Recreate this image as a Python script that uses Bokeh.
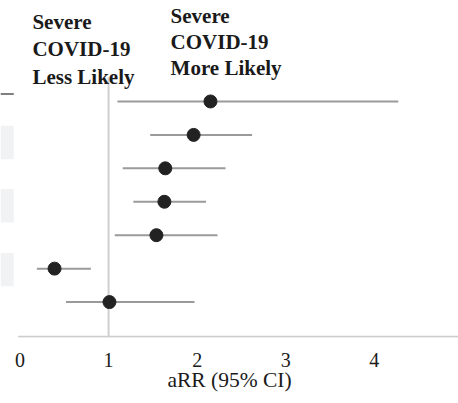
from bokeh.plotting import figure
from bokeh.models import Range1d, Label, FixedTicker
from bokeh.embed import file_html
from bokeh.resources import INLINE

# ---- data ----
rows = [0, 1, 2, 3, 4, 5, 6]                      # top to bottom
arr = [2.15, 1.96, 1.64, 1.63, 1.54, 0.39, 1.01]  # adjusted risk ratio
lower = [1.10, 1.47, 1.16, 1.28, 1.07, 0.19, 0.52]
upper = [4.27, 2.62, 2.32, 2.10, 2.23, 0.80, 1.97]
x_ticks = [0, 1, 2, 3, 4]
ref_value = 1.0
shade_rows = [1.23, 3.12, 5.03]   # shaded rows of the (cropped) table on the left
header_rule_row = -0.22

SERIF = "Liberation Serif"

p = figure(width=458, height=403, output_backend="svg", toolbar_location=None,
           x_range=Range1d(-0.22, 4.95), y_range=Range1d(7.06, -3.02),
           y_axis_location=None, min_border=0, min_border_bottom=66,
           outline_line_color=None, background_fill_color="white",
           border_fill_color="white")
p.xgrid.visible = False
p.ygrid.visible = False

# cropped table shading + header rule at far left
p.quad(left=-0.22, right=-0.07, top=[r - 0.5 for r in shade_rows],
       bottom=[r + 0.5 for r in shade_rows], fill_color="#f1f2f4", line_color=None)
p.segment(x0=-0.22, x1=-0.07, y0=header_rule_row, y1=header_rule_row,
          line_color="#555555", line_width=1.5)

# axis baseline
p.segment(x0=-0.02, x1=4.95, y0=7.04, y1=7.04, line_color="#cccccc", line_width=2)

# reference line at 1
p.segment(x0=ref_value, x1=ref_value, y0=-0.72, y1=7.04, line_color="#cfcfcf", line_width=2)

# CIs and points
p.segment(x0=lower, x1=upper, y0=rows, y1=rows, line_color="#9a9a9a", line_width=2)
p.scatter(x=arr, y=rows, size=13, fill_color="#222222", line_color="#222222")

# annotations
p.add_layout(Label(x=0.14, y=-2.75, text="Severe\nCOVID-19\nLess Likely",
                   text_font=SERIF, text_font_style="bold", text_font_size="21px",
                   text_color="#1a1a1a", text_baseline="top", text_line_height=1.15))
p.add_layout(Label(x=1.70, y=-2.93, text="Severe\nCOVID-19\nMore Likely",
                   text_font=SERIF, text_font_style="bold", text_font_size="21px",
                   text_color="#1a1a1a", text_baseline="top", text_line_height=1.1))

ax = p.xaxis[0]
ax.ticker = FixedTicker(ticks=x_ticks)
ax.axis_line_color = None
ax.major_tick_line_color = None
ax.minor_tick_line_color = None
ax.major_tick_out = 0
ax.major_label_standoff = 15
ax.major_label_text_font = SERIF
ax.major_label_text_font_size = "20px"
ax.major_label_text_color = "#1a1a1a"
ax.axis_label = "aRR (95% CI)"
ax.axis_label_text_font = SERIF
ax.axis_label_text_font_style = "normal"
ax.axis_label_text_font_size = "21.5px"
ax.axis_label_text_color = "#1a1a1a"
ax.axis_label_standoff = -2

open("out.html", "w").write(file_html(p, INLINE))
